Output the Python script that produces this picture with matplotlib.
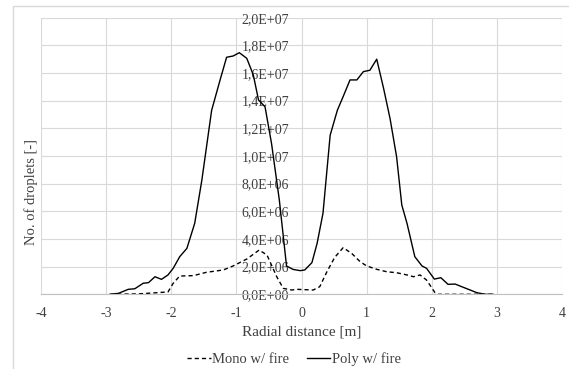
import matplotlib
matplotlib.use('Agg')
import matplotlib.pyplot as plt
from matplotlib.ticker import FuncFormatter, MultipleLocator
from matplotlib.patches import Rectangle
from matplotlib.lines import Line2D

plt.rcParams['font.family'] = ['Liberation Serif', 'DejaVu Serif']
plt.rcParams['axes.unicode_minus'] = False

# values (x in m, y in millions of droplets)
poly_x = [-2.94, -2.81, -2.66, -2.56, -2.43, -2.35, -2.25, -2.15, -2.05, -1.97,
          -1.87, -1.76, -1.64, -1.53, -1.38, -1.25, -1.15, -1.05, -0.955, -0.84,
          -0.74, -0.66, -0.56, -0.46, -0.34, -0.23, -0.13, -0.02, 0.05, 0.16,
          0.24, 0.33, 0.44, 0.55, 0.64, 0.745, 0.85, 0.95, 1.05, 1.155,
          1.26, 1.36, 1.46, 1.54, 1.62, 1.74, 1.85, 1.92, 2.04, 2.14,
          2.25, 2.36, 2.46, 2.59, 2.69, 2.82, 2.94]
poly_y = [0.0, 0.07, 0.36, 0.4, 0.8, 0.84, 1.27, 1.08, 1.4, 1.88,
          2.72, 3.32, 5.13, 8.26, 13.3, 15.5, 17.14, 17.23, 17.47, 17.06,
          15.86, 14.05, 13.56, 10.9, 6.8, 2.05, 1.8, 1.71, 1.76, 2.29,
          3.69, 5.86, 11.5, 13.3, 14.3, 15.5, 15.5, 16.1, 16.2, 17.0,
          14.9, 12.7, 9.95, 6.46, 5.13, 2.72, 2.05, 1.88, 1.1, 1.2,
          0.72, 0.74, 0.55, 0.31, 0.12, 0.0, 0.0]

mono_x = [-2.94, -2.5, -2.05, -1.97, -1.87, -1.66, -1.46, -1.2, -1.05, -0.84,
          -0.65, -0.53, -0.38, -0.28, -0.15, -0.07, 0.18, 0.28, 0.39, 0.51,
          0.64, 0.77, 0.9, 1.0, 1.16, 1.31, 1.46, 1.62, 1.72, 1.82,
          1.92, 2.05, 2.1, 2.5, 2.94]
mono_y = [0.0, 0.03, 0.17, 0.8, 1.32, 1.35, 1.59, 1.76, 2.05, 2.55,
          3.2, 2.84, 1.27, 0.43, 0.31, 0.36, 0.31, 0.55, 1.63, 2.67,
          3.37, 2.96, 2.36, 2.05, 1.8, 1.63, 1.56, 1.4, 1.27, 1.4,
          1.03, 0.12, 0.0, 0.0, 0.0]

poly_y = [v * 1e6 for v in poly_y]
mono_y = [v * 1e6 for v in mono_y]

W, H = 569, 369
fig = plt.figure(figsize=(W / 100, H / 100), dpi=100)
ax = fig.add_axes([41 / W, 1 - 294.3 / H, (562 - 41) / W, (294.3 - 17.7) / H])

# chart area border (partly outside the image, like the reference)
fig.patches.append(Rectangle((13 / W, -0.1), 1.2, 1 - 6 / H + 0.1,
                             transform=fig.transFigure, fill=False,
                             edgecolor='#d9d9d9', lw=1))

dash = (0, (3, 2.2))
ax.plot(mono_x, mono_y, color='#000000', lw=1.0, ls=dash, label='Mono w/ fire')
ax.plot(poly_x, poly_y, color='#000000', lw=1.0, label='Poly w/ fire')

ax.set_xlim(-4, 4)
ax.set_ylim(0, 2e7)
ax.xaxis.set_major_locator(MultipleLocator(1))
ax.yaxis.set_major_locator(MultipleLocator(2e6))
ax.yaxis.set_major_formatter(FuncFormatter(lambda v, p: f"{v:.1E}".replace('.', ',')))
ax.grid(True, color='#d9d9d9', lw=0.8)
ax.set_axisbelow(True)

for s in ['top', 'right']:
    ax.spines[s].set_visible(False)
ax.spines['left'].set_position(('data', 0))
ax.spines['left'].set_visible(False)
ax.spines['bottom'].set_color('#bfbfbf')
ax.tick_params(length=0, labelsize=10, colors='#404040')
ax.tick_params(axis='y', pad=9)
ax.tick_params(axis='x', pad=9)

ax.set_xlabel('Radial distance [m]', fontsize=11, color='#404040', labelpad=4)
fig.text(31 / W, 1 - 192 / H, 'No. of droplets [-]', rotation=90, fontsize=10.5,
         color='#404040', ha='center', va='center')

handles = [Line2D([], [], color='#000000', lw=1.0, ls=dash),
           Line2D([], [], color='#000000', lw=1.0)]
fig.legend(handles, ['Mono w/ fire', 'Poly w/ fire'], loc='center',
           bbox_to_anchor=(294 / W, 1 - 359 / H), ncol=2, frameon=False,
           fontsize=10.5, handlelength=1.6, handletextpad=0.1, columnspacing=1.2,
           labelcolor='#404040')

fig.savefig('out.png', dpi=100)
